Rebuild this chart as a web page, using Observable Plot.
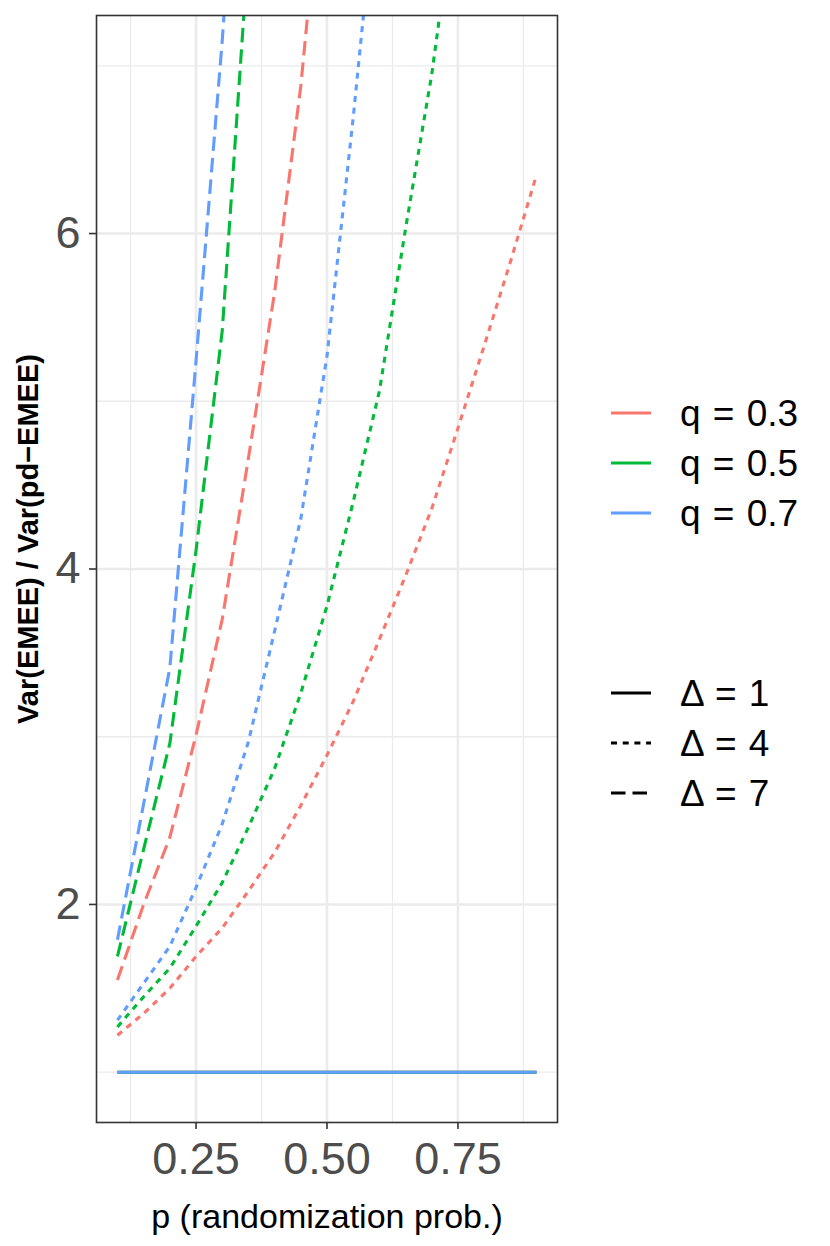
<!DOCTYPE html>
<html>
<head>
<meta charset="utf-8">
<script src="https://cdn.jsdelivr.net/npm/d3@7"></script>
<script src="https://cdn.jsdelivr.net/npm/@observablehq/plot@0.6"></script>
<style>
  body { margin: 0; background: #ffffff; }
  #chart svg { display: block; }
</style>
</head>
<body>
<div id="chart"></div>
<script>
// ---------- data ----------
const pValues = [0.1, 0.15, 0.2, 0.25, 0.3, 0.35, 0.4, 0.45, 0.5, 0.55, 0.6, 0.65, 0.7, 0.75, 0.8, 0.85, 0.9];

const qLevels = ["q = 0.3", "q = 0.5", "q = 0.7"];
const deltaLevels = ["\u0394 = 1", "\u0394 = 4", "\u0394 = 7"];
const qColors = ["#F8766D", "#00BA38", "#619CFF"];
const deltaDash = ["none", "6,5.7", "14.5,7"];

// Var(EMEE)/Var(pd-EMEE), one value per p (null = beyond the visible range)
const ratio_q03_d1 = [1, 1, 1, 1, 1, 1, 1, 1, 1, 1, 1, 1, 1, 1, 1, 1, 1];
const ratio_q05_d1 = [1, 1, 1, 1, 1, 1, 1, 1, 1, 1, 1, 1, 1, 1, 1, 1, 1];
const ratio_q07_d1 = [1, 1, 1, 1, 1, 1, 1, 1, 1, 1, 1, 1, 1, 1, 1, 1, 1];

const ratio_q03_d4 = [1.22, 1.35, 1.50, 1.69, 1.86, 2.08, 2.31, 2.59, 2.89, 3.21, 3.58, 3.96, 4.36, 4.84, 5.33, 5.83, 6.35];
const ratio_q05_d4 = [1.27, 1.45, 1.62, 1.87, 2.13, 2.46, 2.81, 3.26, 3.78, 4.40, 5.06, 6.03, 6.95, 8.10, null, null, null];
const ratio_q07_d4 = [1.31, 1.53, 1.75, 2.10, 2.48, 2.97, 3.63, 4.30, 5.27, 6.69, 8.25, null, null, null, null, null, null];

const ratio_q03_d7 = [1.55, 2.00, 2.40, 3.01, 3.70, 4.66, 5.65, 6.88, 8.50, null, null, null, null, null, null, null, null];
const ratio_q05_d7 = [1.69, 2.33, 2.96, 4.11, 5.42, 7.70, null, null, null, null, null, null, null, null, null, null, null];
const ratio_q07_d7 = [1.79, 2.60, 3.41, 5.24, 7.15, 9.40, null, null, null, null, null, null, null, null, null, null, null];

const xMajor = [0.25, 0.5, 0.75];
const xMinor = [0.125, 0.375, 0.625, 0.875];
const yMajor = [2, 4, 6];
const yMinor = [1, 3, 5, 7];

const xTitle = "p (randomization prob.)";
const yTitle = "Var(EMEE) / Var(pd\u2212EMEE)";

// ---------- table ----------
const seriesTable = [
  [0, 0, ratio_q03_d1], [1, 0, ratio_q05_d1], [2, 0, ratio_q07_d1],
  [0, 1, ratio_q03_d4], [1, 1, ratio_q05_d4], [2, 1, ratio_q07_d4],
  [0, 2, ratio_q03_d7], [1, 2, ratio_q05_d7], [2, 2, ratio_q07_d7]
];
const rows = [];
for (const [qi, di, vals] of seriesTable) {
  vals.forEach((v, k) => {
    if (v != null) rows.push({p: pValues[k], ratio: v, q: qLevels[qi], delta: deltaLevels[di]});
  });
}

const font = "'Liberation Sans', Arial, Helvetica, sans-serif";

const lineMarks = deltaLevels.map((dl, di) =>
  Plot.line(rows.filter(d => d.delta === dl), {
    x: "p", y: "ratio", z: "q", stroke: "q",
    strokeWidth: 3.1,
    strokeDasharray: deltaDash[di] === "none" ? null : deltaDash[di],
    strokeLinecap: "butt",
    clip: true
  })
);

const svg = Plot.plot({
  width: 830,
  height: 1246,
  marginLeft: 96,
  marginRight: 273,
  marginTop: 15,
  marginBottom: 124,
  style: {fontFamily: font, background: "#ffffff", color: "#000000", overflow: "visible"},
  x: {domain: [0.06, 0.94]},
  y: {domain: [0.7, 7.3]},
  color: {domain: qLevels, range: qColors},
  marks: [
    Plot.gridX({ticks: xMinor, stroke: "#EBEBEB", strokeOpacity: 1, strokeWidth: 1.3}),
    Plot.gridY({ticks: yMinor, stroke: "#EBEBEB", strokeOpacity: 1, strokeWidth: 1.3}),
    Plot.gridX({ticks: xMajor, stroke: "#EBEBEB", strokeOpacity: 1, strokeWidth: 2.6}),
    Plot.gridY({ticks: yMajor, stroke: "#EBEBEB", strokeOpacity: 1, strokeWidth: 2.6}),
    ...lineMarks,
    Plot.frame({stroke: "#333333", strokeWidth: 1.6}),
    Plot.axisX({
      ticks: xMajor, tickFormat: d3.format(".2f"), tickSize: 7, tickPadding: 13,
      fontSize: 45, fill: "#4D4D4D", stroke: "#333333", strokeWidth: 1.6, label: null
    }),
    Plot.axisY({
      ticks: yMajor, tickFormat: d3.format("d"), tickSize: 7, tickPadding: 9,
      fontSize: 45, fill: "#4D4D4D", stroke: "#333333", strokeWidth: 1.6, label: null
    }),
    Plot.text([xTitle], {frameAnchor: "bottom", dy: 95, fontSize: 34, fill: "#000000", lineAnchor: "middle", textAnchor: "middle"}),
    Plot.text([yTitle], {
      frameAnchor: "left", rotate: -90, dx: -68, dy: -30, textAnchor: "middle",
      fontSize: 29, fontWeight: "bold", fill: "#000000", lineAnchor: "middle"
    })
  ]
});

document.getElementById("chart").appendChild(svg);

// ---------- legend (two keys at the right) ----------
const lg = d3.select(svg).append("g").attr("font-family", font).attr("fill", "#000000")
  .attr("text-anchor", "start");
qLevels.forEach((lab, i) => {
  const y = 413 + i * 50;
  lg.append("line").attr("x1", 611).attr("x2", 651).attr("y1", y).attr("y2", y)
    .attr("stroke", qColors[i]).attr("stroke-width", 3.1);
  lg.append("text").attr("x", 680).attr("y", y).attr("dy", "0.35em").attr("text-anchor", "start")
    .attr("font-size", 37).attr("word-spacing", "2px").text(lab);
});
deltaLevels.forEach((lab, i) => {
  const y = 693 + i * 50;
  const ln = lg.append("line").attr("x1", 611).attr("x2", 651).attr("y1", y).attr("y2", y)
    .attr("stroke", "#000000").attr("stroke-width", 3.1);
  if (deltaDash[i] !== "none") ln.attr("stroke-dasharray", deltaDash[i]);
  lg.append("text").attr("x", 680).attr("y", y).attr("dy", "0.35em").attr("text-anchor", "start")
    .attr("font-size", 37).attr("word-spacing", "2px").text(lab);
});
</script>
</body>
</html>
